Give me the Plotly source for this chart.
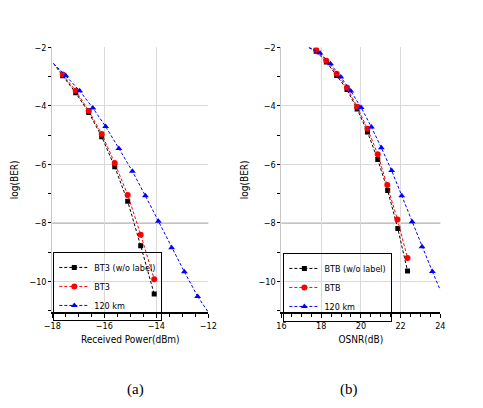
import plotly.graph_objects as go

# ---- data (a): Received power vs log(BER)
a_black_x = [-17.6, -17.1, -16.6, -16.1, -15.6, -15.1, -14.6, -14.08]
a_black_y = [-2.97, -3.55, -4.22, -5.05, -6.08, -7.26, -8.78, -10.43]
a_red_x = [-17.6, -17.1, -16.6, -16.1, -15.6, -15.1, -14.6, -14.08]
a_red_y = [-2.92, -3.48, -4.16, -4.96, -5.95, -7.04, -8.40, -9.92]
a_blue_x = [-17.48, -16.95, -16.44, -15.95, -15.44, -14.92, -14.42, -13.92, -13.41, -12.92, -12.41]
a_blue_y = [-2.97, -3.48, -4.07, -4.70, -5.45, -6.23, -7.07, -7.94, -8.85, -9.67, -10.51]
a_fit_start = (-17.95, -2.55)
a_blue_fit_end = (-12.0, -11.05)

# ---- data (b): OSNR vs log(BER)
b_black_x = [17.75, 18.26, 18.78, 19.30, 19.81, 20.33, 20.85, 21.35, 21.86, 22.35]
b_black_y = [-2.13, -2.50, -2.96, -3.44, -4.10, -4.89, -5.83, -6.89, -8.19, -9.64]
b_red_x = [17.75, 18.26, 18.78, 19.30, 19.81, 20.33, 20.85, 21.33, 21.84, 22.35]
b_red_y = [-2.08, -2.45, -2.90, -3.37, -4.03, -4.78, -5.65, -6.70, -7.88, -9.20]
b_blue_x = [17.94, 18.47, 18.99, 19.49, 20.01, 20.53, 21.03, 21.55, 22.06, 22.58, 23.08, 23.60]
b_blue_y = [-2.19, -2.56, -3.01, -3.49, -4.05, -4.72, -5.43, -6.21, -7.07, -7.96, -8.81, -9.66]
b_fit_start = (17.38, -2.0)
b_blue_fit_end = (24.0, -10.3)

names_a = ["BT3 (w/o label)", "BT3", "120 km"]
names_b = ["BTB (w/o label)", "BTB", "120 km"]
threshold = -8
y_ticks = [-2, -4, -6, -8, -10]
a_ticks = [-18, -16, -14, -12]
b_ticks = [16, 18, 20, 22, 24]

colors = ["black", "red", "blue"]
symbols = ["square", "circle", "triangle-up"]
msizes = [5, 6, 6]
DASH = "3px,2px"

FONT = "DejaVu Sans Condensed, Liberation Sans Narrow, Liberation Sans, Arial"

fig = go.Figure()

def add_panel(xs, ys, names, xa, ya, legend, start, blue_end):
    for i in range(3):
        fig.add_trace(go.Scatter(
            x=xs[i], y=ys[i], name=names[i], mode="lines+markers",
            line=dict(color=colors[i], width=1, dash=DASH),
            marker=dict(symbol=symbols[i], color=colors[i], size=msizes[i]),
            xaxis=xa, yaxis=ya, legend=legend))
        ext_x = [start[0], xs[i][0]]
        ext_y = [start[1], ys[i][0]]
        fig.add_trace(go.Scatter(
            x=ext_x, y=ext_y, mode="lines", showlegend=False,
            line=dict(color=colors[i], width=1, dash=DASH),
            xaxis=xa, yaxis=ya, hoverinfo="skip"))
    fig.add_trace(go.Scatter(
        x=[xs[2][-1], blue_end[0]], y=[ys[2][-1], blue_end[1]], mode="lines",
        showlegend=False, line=dict(color="blue", width=1, dash=DASH),
        xaxis=xa, yaxis=ya, hoverinfo="skip"))

add_panel([a_black_x, a_red_x, a_blue_x], [a_black_y, a_red_y, a_blue_y],
          names_a, "x", "y", "legend", a_fit_start, a_blue_fit_end)
add_panel([b_black_x, b_red_x, b_blue_x], [b_black_y, b_red_y, b_blue_y],
          names_b, "x2", "y2", "legend2", b_fit_start, b_blue_fit_end)

ydom = [(408 - 311) / 408, (408 - 43) / 408]
xax_common = dict(showline=True, linecolor="black", linewidth=1.5, ticks="outside",
                  ticklen=4, tickcolor="black", showgrid=True, gridcolor="#d9d9d9",
                  zeroline=False, tickfont=dict(family=FONT, size=9, color="black"),
                  minor=dict(ticks="outside", ticklen=3, tickcolor="black", showgrid=False))
yax_common = dict(showline=True, linecolor="#c8c8c8", linewidth=1, ticks="outside",
                  ticklen=3, tickcolor="black", showgrid=True, gridcolor="#d9d9d9",
                  zeroline=False, range=[-11.05, -2], tickvals=y_ticks,
                  tickfont=dict(family=FONT, size=9, color="black"),
                  minor=dict(ticks="outside", ticklen=3, tickcolor="black", dtick=1, showgrid=False),
                  title=dict(text="log(BER)", font=dict(family=FONT, size=10, color="black"), standoff=8))

leg_common = dict(xanchor="left", yanchor="top", bgcolor="rgba(255,255,255,0)", bordercolor="black",
                  borderwidth=1, font=dict(family=FONT, size=9, color="black"),
                  itemwidth=30, tracegroupgap=0)

fig.update_layout(
    width=483, height=408, margin=dict(l=0, r=0, t=0, b=0),
    paper_bgcolor="white", plot_bgcolor="white",
    xaxis=dict(domain=[45 / 483, 207 / 483], range=[-18, -12], tickvals=a_ticks,
               title=dict(text="Received Power(dBm)", font=dict(family=FONT, size=10, color="black"), standoff=6),
               **xax_common),
    yaxis=dict(domain=ydom, anchor="x", **yax_common),
    xaxis2=dict(domain=[283 / 483, 448 / 483], range=[16, 24], tickvals=b_ticks, anchor="y2",
                title=dict(text="OSNR(dB)", font=dict(family=FONT, size=10, color="black"), standoff=6),
                **xax_common),
    yaxis2=dict(domain=ydom, anchor="x2", **yax_common),
    legend=dict(x=46 / 483, y=(408 - 250) / 408, **leg_common),
    legend2=dict(x=285 / 483, y=(408 - 251) / 408, **leg_common),
    showlegend=True,
)

for xr, yr in [("x", "y"), ("x2", "y2")]:
    fig.add_shape(type="line", xref=f"{xr} domain", yref=yr, x0=0, x1=1,
                  y0=threshold, y1=threshold, line=dict(color="#7f7f7f", width=1), layer="below")

fig.add_annotation(text="(a)", x=120 / 483, y=(408 - 400) / 408, xref="paper", yref="paper",
                   showarrow=False, font=dict(family="Liberation Serif, Times New Roman", size=15, color="black"))
fig.add_annotation(text="(b)", x=365 / 483, y=(408 - 400) / 408, xref="paper", yref="paper",
                   showarrow=False, font=dict(family="Liberation Serif, Times New Roman", size=15, color="black"))

fig.write_html("out.html")
